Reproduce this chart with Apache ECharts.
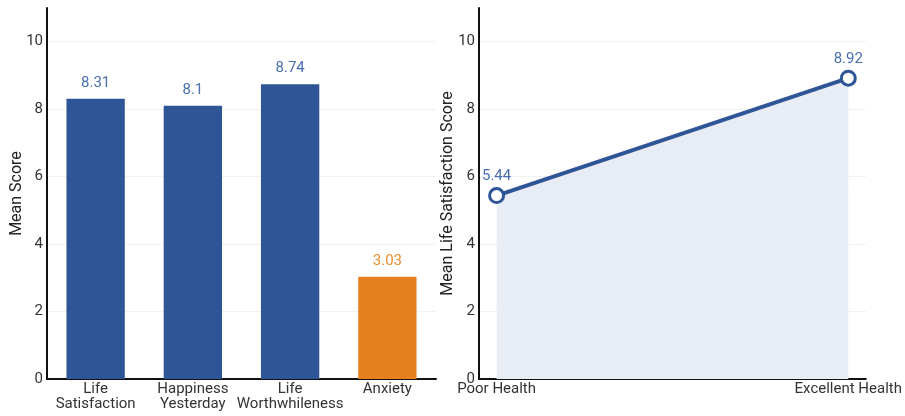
<!DOCTYPE html>
<html>
<head>
<meta charset="utf-8">
<script src="https://cdn.jsdelivr.net/npm/echarts@6/dist/echarts.min.js"></script>
<style>
  html, body { margin: 0; padding: 0; background: #fff; }
  #chart { width: 905px; height: 416px; }
</style>
</head>
<body>
<div id="chart"></div>
<script>
// Wellbeing measures (left panel)
const measureNames = ['Life\nSatisfaction', 'Happiness\nYesterday', 'Life\nWorthwhileness', 'Anxiety'];
const measureScores = [8.31, 8.1, 8.74, 3.03];

// Life satisfaction by self-rated health (right panel)
const healthGroups = ['Poor Health', 'Excellent Health'];
const healthScores = [5.44, 8.92];

// y-axis ticks shared by both panels
const yTicks = [0, 2, 4, 6, 8, 10];

const BLUE = '#2e5596';
const BLUE_LABEL = '#4a6fae';
const ORANGE = '#e7801f';
const ORANGE_LABEL = '#ea8d2c';
const FONT = 'Roboto';

const chart = echarts.init(document.getElementById('chart'), null, { renderer: 'canvas' });

const yAxisCommon = {
  type: 'value',
  min: 0,
  max: 11,
  interval: 2,
  nameLocation: 'middle',
  nameMoveOverlap: false,
  nameTextStyle: { fontFamily: FONT, fontSize: 16, color: '#222' },
  axisLine: { show: true, onZero: false, lineStyle: { color: '#111', width: 2 } },
  axisTick: { show: false },
  axisLabel: { customValues: yTicks, fontFamily: FONT, fontSize: 15, color: '#333', margin: 4 },
  splitLine: { show: true, showMaxLine: false, lineStyle: { color: '#f1f1f1', width: 1 } }
};

chart.setOption({
  animation: false,
  grid: [
    { left: 47, right: 469, top: 8, bottom: 37 },
    { left: 479, right: 37, top: 8, bottom: 37 }
  ],
  xAxis: [
    {
      gridIndex: 0,
      type: 'category',
      data: measureNames,
      axisLine: { lineStyle: { color: '#111', width: 2 } },
      axisTick: { show: false },
      axisLabel: { fontFamily: FONT, fontSize: 15, color: '#333', margin: 3, lineHeight: 15, interval: 0 }
    },
    {
      gridIndex: 1,
      type: 'value',
      min: -0.05,
      max: 1.05,
      axisLine: { show: true, onZero: false, lineStyle: { color: '#111', width: 2 } },
      axisTick: { show: false },
      splitLine: { show: false },
      axisLabel: {
        customValues: [0, 1],
        fontFamily: FONT, fontSize: 15, color: '#333', margin: 3,
        formatter: v => healthGroups[Math.round(v)]
      }
    }
  ],
  yAxis: [
    Object.assign({}, yAxisCommon, { gridIndex: 0, name: 'Mean Score', nameGap: 22 }),
    Object.assign({}, yAxisCommon, { gridIndex: 1, name: 'Mean Life Satisfaction Score', nameGap: 23 })
  ],
  series: [
    {
      type: 'bar',
      xAxisIndex: 0,
      yAxisIndex: 0,
      barWidth: '60%',
      data: measureScores.map((v, i) => ({
        value: v,
        itemStyle: { color: i === 3 ? ORANGE : BLUE },
        label: { color: i === 3 ? ORANGE_LABEL : BLUE_LABEL }
      })),
      label: {
        show: true,
        position: 'top',
        distance: 8,
        fontFamily: FONT,
        fontSize: 15
      }
    },
    {
      type: 'line',
      xAxisIndex: 1,
      yAxisIndex: 1,
      data: healthScores.map((v, i) => [i, v]),
      symbol: 'circle',
      symbolSize: 14,
      lineStyle: { color: BLUE, width: 4 },
      itemStyle: { color: '#fff', borderColor: BLUE, borderWidth: 3 },
      areaStyle: { color: '#e7ecf5', opacity: 1 },
      label: {
        show: true,
        position: 'top',
        distance: 3,
        fontFamily: FONT,
        fontSize: 15,
        color: BLUE_LABEL,
        formatter: p => p.value[1]
      },
      z: 3
    }
  ]
});
</script>
</body>
</html>
